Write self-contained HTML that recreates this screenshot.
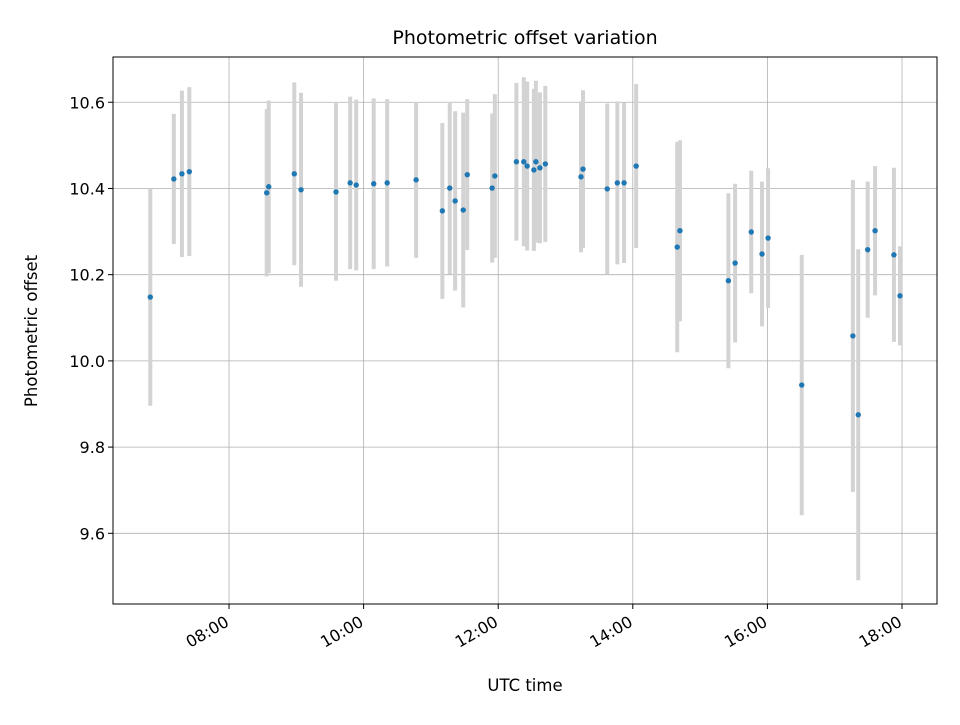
<!DOCTYPE html>
<html><head><meta charset="utf-8"><style>
body{margin:0;background:#fff;font-family:"Liberation Sans","DejaVu Sans",sans-serif;}
svg text{font-family:"DejaVu Sans","Liberation Sans",sans-serif;}
</style></head><body>
<svg id="chart" width="960" height="720" viewBox="0 0 960 720" xmlns="http://www.w3.org/2000/svg">
<text x="525" y="44" font-size="19" text-anchor="middle">Photometric offset variation</text>
<text x="525" y="691" font-size="16.5" text-anchor="middle">UTC time</text>
<text transform="translate(37,331) rotate(-90)" font-size="16.5" text-anchor="middle">Photometric offset</text>
<g id="grid"></g>
<g id="errs"></g>
<g id="pts"></g>
<g id="axes"></g>
<rect x="113" y="57" width="824" height="547" fill="none" stroke="#000" stroke-width="1"/>
</svg>
<script>
const times=[6.83,7.18,7.30,7.41,8.56,8.59,8.97,9.07,9.59,9.80,9.89,10.15,10.35,10.78,11.17,11.28,11.36,11.48,11.54,11.91,11.95,12.27,12.38,12.43,12.53,12.56,12.62,12.70,13.23,13.26,13.62,13.77,13.87,14.05,14.66,14.70,15.42,15.52,15.76,15.92,16.01,16.51,17.27,17.35,17.49,17.60,17.88,17.97];
const offsets=[10.148,10.422,10.434,10.439,10.390,10.404,10.434,10.397,10.392,10.413,10.408,10.411,10.413,10.420,10.348,10.401,10.371,10.350,10.432,10.401,10.429,10.462,10.462,10.452,10.443,10.462,10.448,10.457,10.427,10.445,10.399,10.413,10.413,10.452,10.264,10.302,10.186,10.227,10.299,10.248,10.285,9.944,10.058,9.875,10.258,10.302,10.246,10.151];
const errors=[0.252,0.151,0.193,0.196,0.194,0.200,0.212,0.225,0.206,0.200,0.198,0.198,0.194,0.181,0.204,0.200,0.208,0.226,0.175,0.173,0.190,0.183,0.196,0.196,0.188,0.188,0.175,0.181,0.175,0.183,0.198,0.189,0.186,0.190,0.244,0.210,0.203,0.184,0.142,0.168,0.162,0.302,0.362,0.384,0.158,0.150,0.202,0.115];
const xTicks=[8,10,12,14,16,18];
const xTickLabels=["08:00","10:00","12:00","14:00","16:00","18:00"];
const yTicks=[9.6,9.8,10.0,10.2,10.4,10.6];
const yTickLabels=["9.6","9.8","10.0","10.2","10.4","10.6"];
const X0=113,X1=937,Y0=57,Y1=604,xmin=6.276,xmax=18.52,ymin=9.436,ymax=10.705;
const sx=t=>X0+(t-xmin)/(xmax-xmin)*(X1-X0);
const sy=v=>Y1-(v-ymin)/(ymax-ymin)*(Y1-Y0);
const NS="http://www.w3.org/2000/svg";
function mk(tag,attrs,parent){const e=document.createElementNS(NS,tag);for(const k in attrs)e.setAttribute(k,attrs[k]);parent.appendChild(e);return e;}
const grid=document.getElementById('grid'),axes=document.getElementById('axes'),errs=document.getElementById('errs'),pts=document.getElementById('pts');
xTicks.forEach((t,i)=>{const x=sx(t);
 const g=mk('line',{x1:x,x2:x,y1:Y0,y2:Y1,stroke:'#b0b0b0','stroke-width':0.8},grid);
 
 const tk=mk('line',{x1:x,x2:x,y1:Y1,y2:Y1+5,stroke:'#000'},axes);
 
 const tx=mk('text',{x:0,y:0,'font-size':16,'text-anchor':'end',transform:`translate(${x+1},${Y1+21}) rotate(-30)`},axes);
 tx.textContent=xTickLabels[i];
 
});
yTicks.forEach((v,i)=>{const y=sy(v);
 const g=mk('line',{x1:X0,x2:X1,y1:y,y2:y,stroke:'#b0b0b0','stroke-width':0.8},grid);
 
 const tk=mk('line',{x1:X0-5,x2:X0,y1:y,y2:y,stroke:'#000'},axes);
 
 const tx=mk('text',{x:X0-8,y:y+6,'font-size':16,'text-anchor':'end'},axes);
 tx.textContent=yTickLabels[i];
 
});
times.forEach((t,i)=>{const x=sx(t);
 const e=mk('line',{x1:x,x2:x,y1:sy(offsets[i]-errors[i]),y2:sy(offsets[i]+errors[i]),stroke:'#d3d3d3','stroke-width':4},errs);
 
 const c=mk('circle',{cx:x,cy:sy(offsets[i]),r:2.7,fill:'#1f77b4'},pts);
 
});
</script>
</body></html>
